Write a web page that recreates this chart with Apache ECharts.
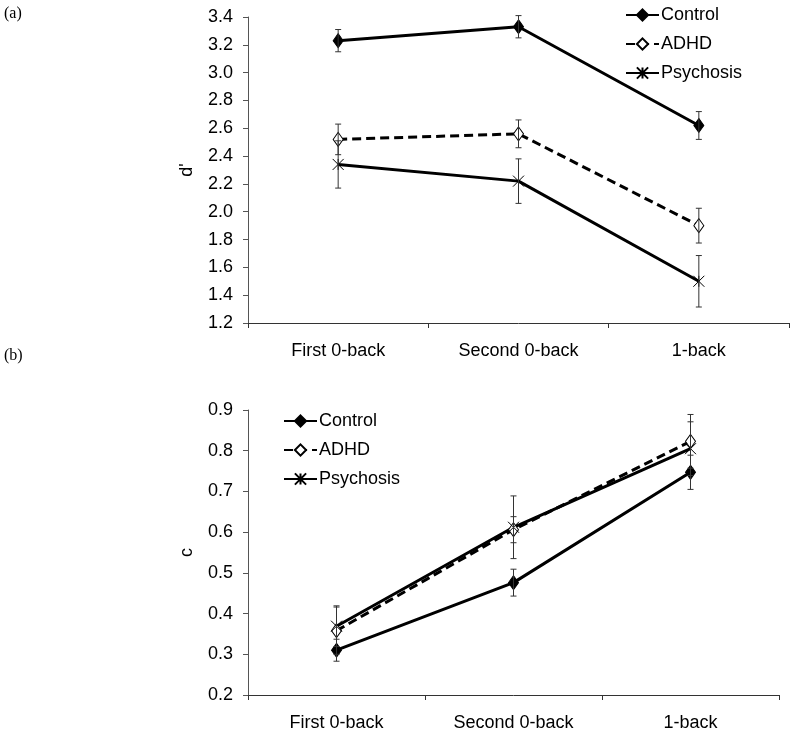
<!DOCTYPE html>
<html>
<head>
<meta charset="utf-8">
<script src="https://cdn.jsdelivr.net/npm/echarts@6/dist/echarts.min.js"></script>
<style>
html,body{margin:0;padding:0;background:#fff;}
#chart{width:800px;height:741px;}
</style>
</head>
<body>
<div id="chart"></div>
<script>
const categories = ['First 0-back', 'Second 0-back', '1-back'];
const groupNames = ['Control', 'ADHD', 'Psychosis'];

// Panel (a): d'
const dPrimeControl = [3.23, 3.33, 2.62];
const dPrimeControlErr = [0.08, 0.08, 0.10];
const dPrimeADHD = [2.52, 2.56, 1.90];
const dPrimeADHDErr = [0.11, 0.10, 0.125];
const dPrimePsychosis = [2.34, 2.22, 1.50];
const dPrimePsychosisErr = [0.17, 0.16, 0.185];
const dPrimeTicks = { min: 1.2, max: 3.4, interval: 0.2 };

// Panel (b): c
const cControl = [0.31, 0.476, 0.747];
const cControlErr = [0.027, 0.033, 0.042];
const cADHD = [0.358, 0.606, 0.823];
const cADHDErr = [0.058, 0.032, 0.066];
const cPsychosis = [0.369, 0.612, 0.805];
const cPsychosisErr = [0.05, 0.077, 0.066];
const cTicks = { min: 0.2, max: 0.9, interval: 0.1 };

const FONT = 'Liberation Sans, Arial, sans-serif';
const FS = 18;
const xPath = 'path://M0,0L10,10M10,0L0,10M5,0L5,10';

const styles = {
  Control: { symbol: 'diamond', symbolSize: [10, 14], itemStyle: { color: '#000', borderColor: '#000', borderWidth: 1 }, lineType: 'solid' },
  ADHD: { symbol: 'diamond', symbolSize: [10, 14], itemStyle: { color: '#fff', borderColor: '#000', borderWidth: 1 }, lineType: [9, 5] },
  Psychosis: { symbol: xPath, symbolSize: [11, 11], itemStyle: { color: '#fff', borderColor: '#000', borderWidth: 1 }, lineType: 'solid' }
};

function lineSeries(name, values, gi) {
  const s = styles[name];
  return {
    type: 'line', name: name, xAxisIndex: gi, yAxisIndex: gi,
    data: values, symbol: s.symbol, symbolSize: s.symbolSize,
    showAllSymbol: true,
    itemStyle: s.itemStyle,
    lineStyle: { color: '#000', width: 3, type: s.lineType },
    z: 3, animation: false
  };
}

function errSeries(values, errs, gi) {
  return {
    type: 'custom', name: 'err', xAxisIndex: gi, yAxisIndex: gi,
    data: values.map((v, i) => [i, v - errs[i], v + errs[i]]),
    renderItem: function (params, api) {
      const lo = api.coord([api.value(0), api.value(1)]);
      const hi = api.coord([api.value(0), api.value(2)]);
      const w = 3;
      const st = { stroke: '#333', lineWidth: 1 };
      return {
        type: 'group',
        children: [
          { type: 'line', shape: { x1: lo[0], y1: lo[1], x2: hi[0], y2: hi[1] }, style: st },
          { type: 'line', shape: { x1: lo[0] - w, y1: lo[1], x2: lo[0] + w, y2: lo[1] }, style: st },
          { type: 'line', shape: { x1: hi[0] - w, y1: hi[1], x2: hi[0] + w, y2: hi[1] }, style: st }
        ]
      };
    },
    z: 4, silent: true, animation: false
  };
}

function xAxisDef(gi) {
  return {
    type: 'category', gridIndex: gi, data: categories, boundaryGap: true,
    axisLine: { lineStyle: { color: '#333', width: 1 } },
    axisTick: { show: true, alignWithLabel: false, length: 5, lineStyle: { color: '#333' } },
    axisLabel: { color: '#000', fontSize: FS, fontFamily: FONT, margin: 19 }
  };
}

function yAxisDef(gi, ticks, name) {
  return {
    type: 'value', gridIndex: gi, min: ticks.min, max: ticks.max, interval: ticks.interval,
    name: name, nameLocation: 'middle', nameGap: 52, nameRotate: 90,
    nameTextStyle: { color: '#000', fontSize: FS, fontFamily: FONT },
    axisLine: { show: true, lineStyle: { color: '#555', width: 1 } },
    axisTick: { show: true, length: 5, inside: false, lineStyle: { color: '#555' } },
    splitLine: { show: false },
    axisLabel: { color: '#000', fontSize: FS, fontFamily: FONT, margin: 15,
      formatter: v => v.toFixed(1) }
  };
}

const option = {
  backgroundColor: '#fff',
  animation: false,
  grid: [
    { left: 248, top: 17, width: 541, height: 306 },
    { left: 248, top: 410, width: 531, height: 285 }
  ],
  xAxis: [xAxisDef(0), xAxisDef(1)],
  yAxis: [yAxisDef(0, dPrimeTicks, "d'"), yAxisDef(1, cTicks, 'c')],
  legend: [
    { data: groupNames, orient: 'vertical', left: 625, top: 6, padding: 0, itemWidth: 33, itemHeight: 14, itemGap: 11,
      textStyle: { color: '#000', fontSize: FS, fontFamily: FONT, padding: [0, 0, 0, -3] }, selectedMode: false },
    { data: groupNames, orient: 'vertical', left: 283, top: 412, padding: 0, itemWidth: 33, itemHeight: 14, itemGap: 11,
      textStyle: { color: '#000', fontSize: FS, fontFamily: FONT, padding: [0, 0, 0, -3] }, selectedMode: false }
  ],
  graphic: [
    { type: 'text', left: 4, top: 6, style: { text: '(a)', fontSize: 16, fontFamily: 'Liberation Serif, Times New Roman, serif', fill: '#000' } },
    { type: 'text', left: 4, top: 348, style: { text: '(b)', fontSize: 16, fontFamily: 'Liberation Serif, Times New Roman, serif', fill: '#000' } }
  ],
  series: [
    errSeries(dPrimeControl, dPrimeControlErr, 0),
    errSeries(dPrimeADHD, dPrimeADHDErr, 0),
    errSeries(dPrimePsychosis, dPrimePsychosisErr, 0),
    lineSeries('Control', dPrimeControl, 0),
    lineSeries('ADHD', dPrimeADHD, 0),
    lineSeries('Psychosis', dPrimePsychosis, 0),
    errSeries(cControl, cControlErr, 1),
    errSeries(cADHD, cADHDErr, 1),
    errSeries(cPsychosis, cPsychosisErr, 1),
    lineSeries('Control', cControl, 1),
    lineSeries('ADHD', cADHD, 1),
    lineSeries('Psychosis', cPsychosis, 1)
  ]
};

const chart = echarts.init(document.getElementById('chart'), null, { renderer: 'canvas' });
chart.setOption(option);
</script>
</body>
</html>
